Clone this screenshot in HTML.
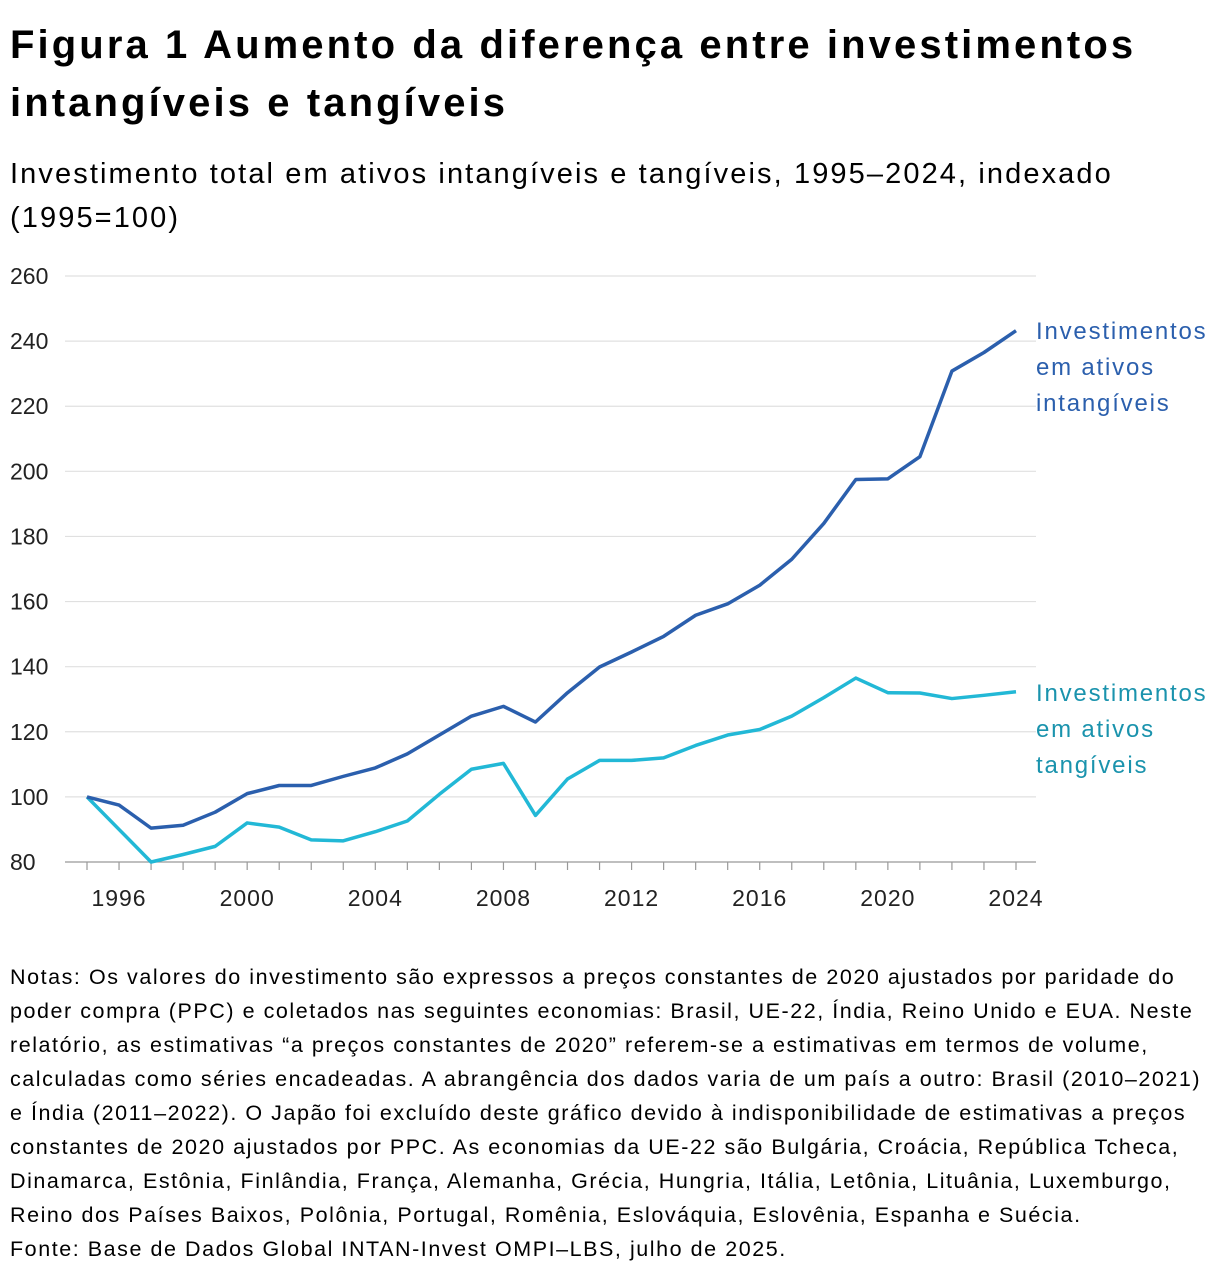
<!DOCTYPE html>
<html><head><meta charset="utf-8"><style>
body{margin:0;width:1220px;height:1276px;background:#fff;font-family:"Liberation Sans",sans-serif;color:#000;position:relative;overflow:hidden}
#title{position:absolute;left:10px;top:16px;font-size:40px;font-weight:bold;line-height:58px;letter-spacing:3.1px;white-space:nowrap}
#sub{position:absolute;left:10px;top:152px;font-size:29px;line-height:44px;letter-spacing:2.1px;white-space:nowrap}
#notes{position:absolute;left:10px;top:960px;font-size:21.5px;line-height:34px;letter-spacing:1.55px;white-space:nowrap}
svg{position:absolute;left:0;top:0}
</style></head><body>
<div id="title">Figura 1 Aumento da diferença entre investimentos<br>intangíveis e tangíveis</div>
<div id="sub">Investimento total em ativos intangíveis e tangíveis, 1995–2024, indexado<br>(1995=100)</div>
<svg id="chart" width="1220" height="940"></svg>
<div id="notes">Notas: Os valores do investimento são expressos a preços constantes de 2020 ajustados por paridade do<br>poder compra (PPC) e coletados nas seguintes economias: Brasil, UE-22, Índia, Reino Unido e EUA. Neste<br>relatório, as estimativas “a preços constantes de 2020” referem-se a estimativas em termos de volume,<br>calculadas como séries encadeadas. A abrangência dos dados varia de um país a outro: Brasil (2010–2021)<br>e Índia (2011–2022). O Japão foi excluído deste gráfico devido à indisponibilidade de estimativas a preços<br>constantes de 2020 ajustados por PPC. As economias da UE-22 são Bulgária, Croácia, República Tcheca,<br>Dinamarca, Estônia, Finlândia, França, Alemanha, Grécia, Hungria, Itália, Letônia, Lituânia, Luxemburgo,<br>Reino dos Países Baixos, Polônia, Portugal, Romênia, Eslováquia, Eslovênia, Espanha e Suécia.<br>Fonte: Base de Dados Global INTAN-Invest OMPI–LBS, julho de 2025.</div>
<script>
const years=[1995,1996,1997,1998,1999,2000,2001,2002,2003,2004,2005,2006,2007,2008,2009,2010,2011,2012,2013,2014,2015,2016,2017,2018,2019,2020,2021,2022,2023,2024];
const intangible=[100,97.5,90.4,91.3,95.3,101,103.5,103.5,106.3,108.9,113.2,119,124.8,127.8,123,132,139.9,144.5,149.3,155.8,159.3,165,173,184,197.5,197.7,204.5,230.8,236.5,243.2];
const tangible=[100,90,80,82.3,84.8,92,90.7,86.8,86.5,89.3,92.6,100.8,108.5,110.3,94.3,105.5,111.2,111.2,112,115.8,119,120.7,124.8,130.5,136.5,132,131.9,130.2,131.2,132.3];
const yTicks=[80,100,120,140,160,180,200,220,240,260];
const xLabels=[1996,2000,2004,2008,2012,2016,2020,2024];
const NS="http://www.w3.org/2000/svg";
const svg=document.getElementById('chart');
const x=v=>87+(v-1995)*(1016-87)/29;
const y=v=>862-(v-80)*(862-276)/180;
function mk(t,a){const e=document.createElementNS(NS,t);for(const k in a)e.setAttribute(k,a[k]);svg.appendChild(e);return e;}
yTicks.forEach(t=>{
  const g=mk('line',{x1:65,x2:1036,y1:y(t),y2:y(t),stroke:t===80?'#999':'#e0e0e0','stroke-width':1.2});
  
  
  const l=mk('text',{x:10,y:y(t)+8,'font-size':23,'font-family':'Liberation Sans, sans-serif',fill:'#222'});
  l.textContent=t;
  
  
});
years.forEach(yr=>{
  const tk=mk('line',{x1:x(yr),x2:x(yr),y1:862,y2:870,stroke:'#999','stroke-width':1.2});
  
  
});
xLabels.forEach(yr=>{
  const l=mk('text',{x:x(yr),y:906,'font-size':23,'text-anchor':'middle','font-family':'Liberation Sans, sans-serif',fill:'#222','letter-spacing':1});
  l.textContent=yr;
  
  
});
function line(vals,color,name){
  const p=mk('polyline',{points:vals.map((v,i)=>x(years[i])+','+y(v)).join(' '),fill:'none',stroke:color,'stroke-width':3.5,'stroke-linejoin':'round'});
  
  
}
line(tangible,'#22b8d6','tangible-line');
line(intangible,'#2b5fad','intangible-line');
function label(lines,top,color,name){
  const t=mk('text',{x:1036,y:top,'font-size':24,'font-family':'Liberation Sans, sans-serif',fill:color,'letter-spacing':1.8});
  
  
  lines.forEach((s,i)=>{const ts=document.createElementNS(NS,'tspan');ts.setAttribute('x',1036);ts.setAttribute('dy',i?36:0);ts.textContent=s;t.appendChild(ts);});
}
label(['Investimentos','em ativos','intangíveis'],339,'#2b5fad','intangible-label');
label(['Investimentos','em ativos','tangíveis'],701,'#1a93ad','tangible-label');
</script>
</body></html>
